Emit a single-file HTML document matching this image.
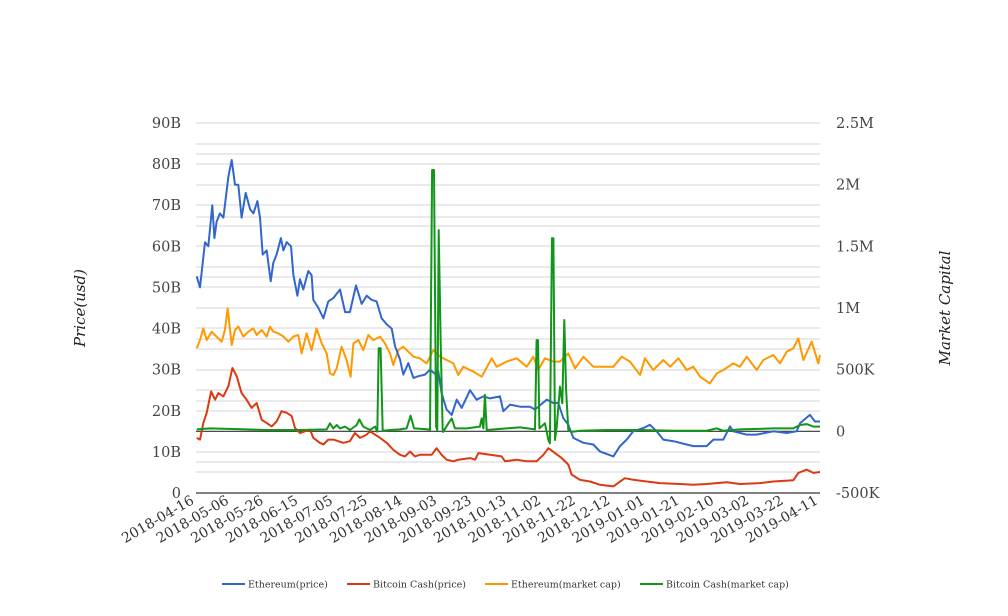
<!DOCTYPE html>
<html><head><meta charset="utf-8"><style>
body{margin:0;background:#fff;}
svg{display:block;font-family:"DejaVu Serif","Liberation Serif",serif;}
</style></head><body>
<svg id="chart" width="1008" height="616">
<g id="grid"></g>
<g id="ylab"></g>
<g id="ylab2"></g>
<g id="xlab"></g>
<g id="series"></g>
<text transform="translate(85,308) rotate(-90)" text-anchor="middle" font-size="15" font-style="italic" fill="#222">Price(usd)</text>
<text transform="translate(950,308) rotate(-90)" text-anchor="middle" font-size="15" font-style="italic" fill="#222">Market Capital</text>
<g id="legend" font-size="10" fill="#333"></g>
</svg>
<script>
const xTickLabels=["2018-04-16","2018-05-06","2018-05-26","2018-06-15","2018-07-05","2018-07-25","2018-08-14","2018-09-03","2018-09-23","2018-10-13","2018-11-02","2018-11-22","2018-12-12","2019-01-01","2019-01-21","2019-02-10","2019-03-02","2019-03-22","2019-04-11"];
const leftTicks=[0,10,20,30,40,50,60,70,80,90];
const leftTickLabels=["0","10B","20B","30B","40B","50B","60B","70B","80B","90B"];
const rightTicks=[-500,0,500,1000,1500,2000,2500];
const rightTickLabels=["-500K","0","500K","1M","1.5M","2M","2.5M"];
const seriesNames=["Ethereum(price)","Bitcoin Cash(price)","Ethereum(market cap)","Bitcoin Cash(market cap)"];
const ethPriceDays=[0.4,2.3,5.2,7.1,9.4,10.6,11.9,13.8,15.8,18.7,20.6,22.5,24.4,26.3,28.7,31.2,33.1,35.4,36.9,38.5,40.8,43.1,44.6,46.5,49,50.4,52.3,54.8,56.2,58.5,60,61.9,64.8,66.7,67.7,70.6,73.5,76.3,79.2,83.1,86,88.8,92.3,95.6,98.5,101.3,104.2,107.1,110,112.9,114.8,117.7,119.6,122.5,125.4,128.3,132.1,135,137.9,139.8,141.7,144.6,147.5,150.4,153.3,158.1,161.9,165.8,169.6,175.4,177.3,181.2,186.9,192.7,195.6,202.3,206.2,209,211.9,214.8,217.7,223.5,229.2,233.1,240.8,244.6,248.5,252.3,258.1,261.9,265.8,269.6,275.4,283.1,286.9,294.6,298.5,304.2,308.1,310,317.7,323.5,333.1,340.8,346.5,348.5,354.2,357.1,360];
const ethPrice=[52.7,50,61,60,70,62,66,68,67,77,81,75,75,67,73,69,68,71,67,58,59,51.5,56,58,62,59,61,60,53,48,52,49.5,54,53,47,45,42.5,46.6,47.4,49.5,44,44,50.5,46,48,47,46.6,42.5,41,40,35.7,32.5,28.8,31.6,28,28.4,28.8,30,29,29.6,24.3,20.3,19,22.7,20.7,25,22.7,23.5,23,23.5,19.9,21.5,21,21,20.3,22.7,21.9,21.9,18.2,16.6,13.4,12.2,11.8,10.1,8.9,11.4,13,15,15.8,16.6,15,13,12.6,11.8,11.4,11.4,13,13,16.2,15,14.2,14.2,15,14.6,15,17,19,17.4,17.4];
const bchPriceDays=[0.4,2.3,4.2,6.2,8.7,11,12.9,15.8,18.7,21,23.5,26.3,29.2,32.1,35,37.9,40.8,43.7,46.5,49.4,52.3,55.2,57.1,60,62.9,65.8,67.7,71.5,73.5,76.3,79.2,82.1,85,88.8,91.7,94.6,98.5,100.4,103.3,106.2,110,113.8,117.7,120.6,123.5,126.3,129.2,133.1,136,138.8,141.7,144.6,148.5,151.3,158.1,161,162.9,169.6,176.3,178.3,185,190.8,196.5,200.4,203.3,207.1,211,214.8,216.7,221.5,227.3,233.1,240.8,244.6,247.5,252.3,260,267.7,279.2,286.9,294.6,306.2,313.8,325.4,333.1,344.6,347.5,352.3,356.2,360];
const bchPrice=[13.4,13,17,19.5,24.7,22.7,24.3,23.5,26,30.4,28.4,24.3,22.7,20.7,21.9,17.8,17,16.2,17.4,19.9,19.5,18.7,15.8,14.6,15,15.4,13.4,12.2,11.8,13,13,12.6,12.2,12.6,14.6,13.4,14.2,15,14.2,13.4,12.2,10.5,9.3,8.9,10.1,8.9,9.3,9.3,9.3,10.9,9.3,8.1,7.7,8.1,8.5,8.1,9.7,9.3,8.9,7.7,8.1,7.7,7.7,9.3,10.9,9.7,8.5,6.9,4.5,3.2,2.8,2,1.6,2.8,3.6,3.2,2.8,2.4,2.2,2,2.2,2.6,2.2,2.4,2.8,3.1,4.9,5.7,4.9,5.1];
const ethCapDays=[0.4,2.3,4.2,6.2,9,11.9,14.8,16.7,18.3,20.6,22.5,24.4,27.3,30.2,33.1,35,37.9,40.8,42.7,44.6,47.5,50.4,53.3,56.2,59,61,63.8,66.7,69.6,72.5,75.4,77.3,79.2,81.2,84,86.9,89.2,90.8,93.7,96.5,99.4,102.3,106.2,109,111.9,113.8,116.7,119.6,122.5,125.4,129.2,133.1,136.9,140.8,144.6,148.5,151.3,154.2,160,164.8,170.6,173.5,179.2,185,190.8,194.6,197.5,201.3,206.2,210,214.8,218.7,223.5,229.2,235,240.8,245.6,250.4,256.2,259,263.8,269.6,273.5,278.3,283.1,286.9,290.8,296.5,300.4,304.2,310,313.8,317.7,323.5,327.3,333.1,336.9,340.8,344.6,347.5,350.4,355.2,359,360];
const ethCap=[673,740,835,740,808,768,727,822,997,700,822,849,768,808,835,781,822,768,849,808,795,768,727,768,781,632,795,659,835,714,632,470,457,511,686,578,443,714,740,659,781,740,768,714,632,538,659,686,646,605,592,551,659,605,578,551,457,524,484,443,592,524,565,592,524,605,497,592,565,565,632,511,605,524,524,524,605,565,457,592,497,578,524,592,497,524,443,389,470,497,551,524,605,497,578,619,551,646,673,754,578,727,551,619];
const bchCapDays=[0.4,8.1,21.5,40.8,60,75.4,77.3,79.2,81.2,83.1,86,88.8,92.7,94.2,96.5,100.4,103.3,104.6,105.4,106.5,107.7,111.9,117.7,121.5,123.8,125.8,134,135,136.2,137.3,138.5,139.2,140,141.2,142.3,142.7,145.6,147.5,149.4,156.2,163.8,164.8,165.8,166.7,167.7,179.2,186.9,195.6,196.5,197.3,198.1,201.3,203.3,204.2,205.4,206.2,207.1,208.1,210,211.3,212.5,213.5,214.8,216.7,221.5,236.9,256.2,275.4,294.6,300.4,304.2,313.8,333.1,344.6,348.5,352.3,356.2,360];
const bchCap=[16,24,19,11,11,16,65,24,51,24,38,11,51,97,38,11,38,-3,673,673,5,11,16,24,127,24,16,11,2119,2119,38,11,1632,713,-3,-3,65,105,24,24,38,105,24,295,11,24,32,16,740,740,24,65,-70,-97,1565,1565,-70,38,362,227,903,335,11,-5,5,11,11,5,5,24,5,16,24,24,51,59,38,38];

const NS="http://www.w3.org/2000/svg";
const X0=196,X1=820,DAYS=360,YB=493,YT=123;
function xScale(d){return X0+(X1-X0)*d/DAYS;}
function yLeft(v){return YB-(YB-YT)*v/90;}
function yRight(v){return YB-(YB-YT)*(v+500)/3000;}
function mk(tag,attrs,parent){const e=document.createElementNS(NS,tag);for(const k in attrs)e.setAttribute(k,attrs[k]);parent.appendChild(e);return e;}

const grid=document.getElementById('grid');
const gridYs=[123,144,154,164,185,205,217,226,246,267,277,287,308,328,339,349,370,390,401,411,452,462,472];
gridYs.forEach(function(y){
  const l=mk('line',{x1:X0,x2:X1,y1:y,y2:y,stroke:'#d4d4d4','stroke-width':1},grid);
  
  
});
const zl=mk('line',{x1:X0,x2:X1,y1:yRight(0),y2:yRight(0),stroke:'#333','stroke-width':1.2},grid);


const bl=mk('line',{x1:X0,x2:X1,y1:YB,y2:YB,stroke:'#333','stroke-width':1.2},grid);



const yl=document.getElementById('ylab');
leftTicks.forEach(function(v,i){
  const t=mk('text',{x:181,y:yLeft(v)+5,'text-anchor':'end','font-size':14.5,fill:'#444'},yl);
  t.textContent=leftTickLabels[i];
  
  
});
const yr=document.getElementById('ylab2');
rightTicks.forEach(function(v,i){
  const t=mk('text',{x:836,y:yRight(v)+5,'text-anchor':'start','font-size':14.5,fill:'#444'},yr);
  t.textContent=rightTickLabels[i];
  
  
});
const xl=document.getElementById('xlab');
xTickLabels.forEach(function(s,i){
  const x=xScale(i*20);
  const t=mk('text',{transform:'translate('+(x-1)+',503) rotate(-30)','text-anchor':'end','font-size':14,fill:'#333'},xl);
  t.textContent=s;
  
  
});

const sg=document.getElementById('series');
function drawLine(days,vals,yf,color,name){
  let d='';
  for(let i=0;i<days.length;i++){d+=(i?'L':'M')+xScale(days[i]).toFixed(1)+','+yf(vals[i]).toFixed(1);}
  const p=mk('path',{d:d,fill:'none',stroke:color,'stroke-width':2,'stroke-linejoin':'round'},sg);
  
  
}
drawLine(ethCapDays,ethCap,yRight,'#ff9900','ethereum-market-cap-line');
drawLine(bchPriceDays,bchPrice,yLeft,'#dc3912','bitcoin-cash-price-line');
drawLine(ethPriceDays,ethPrice,yLeft,'#3366cc','ethereum-price-line');
drawLine(bchCapDays,bchCap,yRight,'#109618','bitcoin-cash-market-cap-line');

const lg=document.getElementById('legend');
const colors=['#3366cc','#dc3912','#ff9900','#109618'];
const lx=[222,347,485,640];
seriesNames.forEach(function(n,i){
  const g=mk('g',{},lg);
  
  
  mk('line',{x1:lx[i],x2:lx[i]+23,y1:584,y2:584,stroke:colors[i],'stroke-width':2},g);
  const t=mk('text',{x:lx[i]+26,y:587.5,'font-size':9.5,fill:'#333'},g);
  t.textContent=n;
});
</script>
</body></html>
